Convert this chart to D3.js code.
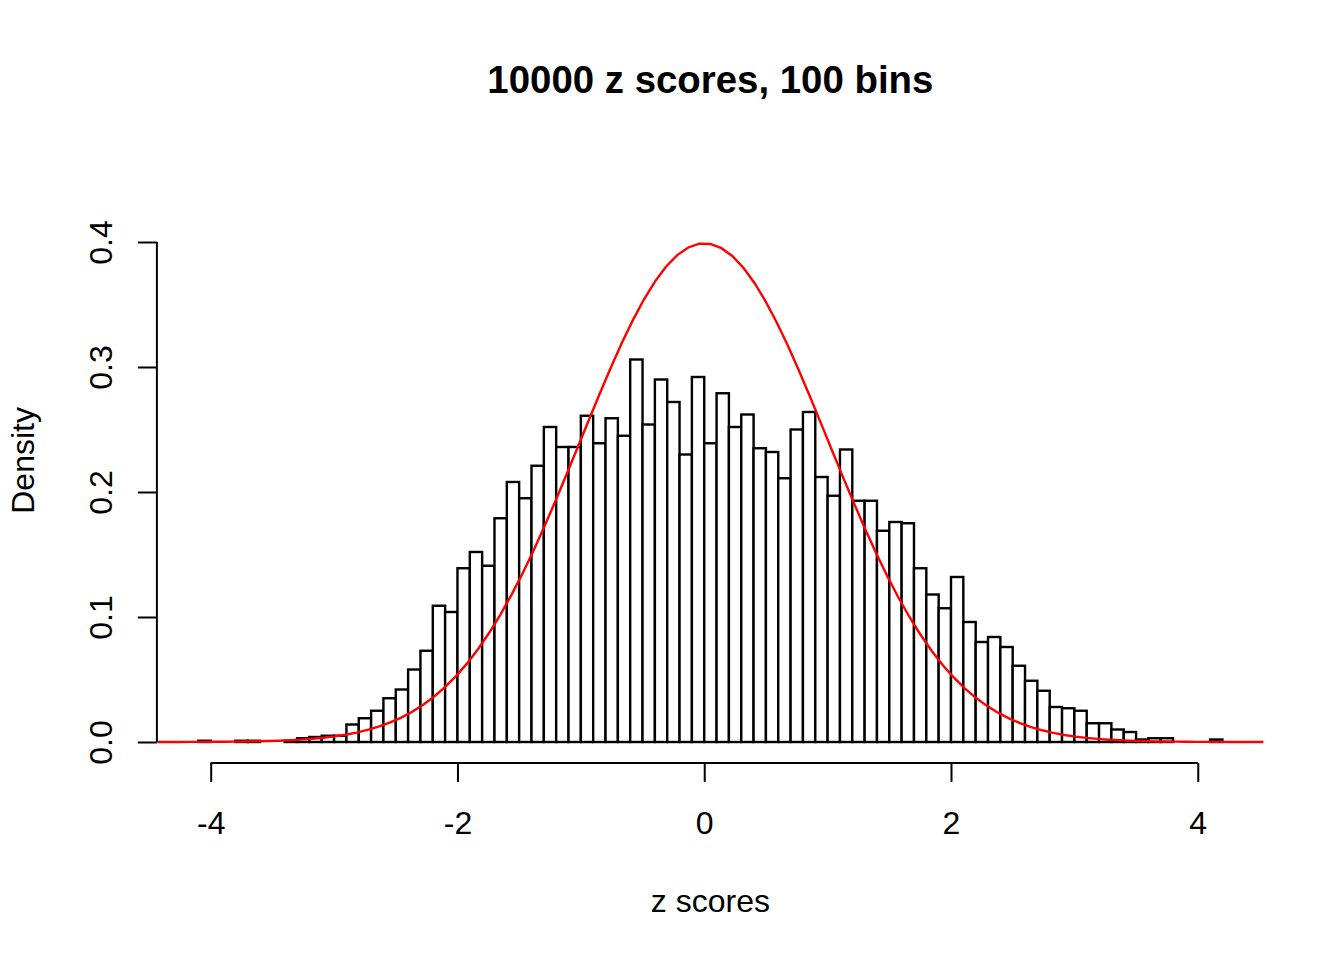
<!DOCTYPE html>
<html>
<head>
<meta charset="utf-8">
<script src="https://cdn.jsdelivr.net/npm/d3@7"></script>
<style>
  html, body { margin: 0; padding: 0; background: #fff; }
  svg text { font-family: "Liberation Sans", Arial, Helvetica, sans-serif; fill: #000; }
</style>
</head>
<body>
<svg id="chart" width="1344" height="960"></svg>
<script>
// Histogram bins of width 0.1 (left edges) and their densities
const binStarts = [
  -4.1, -4.0, -3.9, -3.8, -3.7, -3.6, -3.5, -3.4, -3.3, -3.2,
  -3.1, -3.0, -2.9, -2.8, -2.7, -2.6, -2.5, -2.4, -2.3, -2.2,
  -2.1, -2.0, -1.9, -1.8, -1.7, -1.6, -1.5, -1.4, -1.3, -1.2,
  -1.1, -1.0, -0.9, -0.8, -0.7, -0.6, -0.5, -0.4, -0.3, -0.2,
  -0.1, 0.0, 0.1, 0.2, 0.3, 0.4, 0.5, 0.6, 0.7, 0.8,
  0.9, 1.0, 1.1, 1.2, 1.3, 1.4, 1.5, 1.6, 1.7, 1.8,
  1.9, 2.0, 2.1, 2.2, 2.3, 2.4, 2.5, 2.6, 2.7, 2.8,
  2.9, 3.0, 3.1, 3.2, 3.3, 3.4, 3.5, 3.6, 3.7, 3.8,
  3.9, 4.0, 4.1
];
const binWidth = 0.1;
const densities = [
  0.001, 0.000, 0.000, 0.001, 0.001, 0.000, 0.000, 0.001, 0.003, 0.004,
  0.005, 0.005, 0.014, 0.019, 0.025, 0.035, 0.042, 0.058, 0.073, 0.109,
  0.104, 0.139, 0.152, 0.141, 0.179, 0.208, 0.195, 0.221, 0.252, 0.236,
  0.236, 0.261, 0.239, 0.259, 0.245, 0.306, 0.254, 0.290, 0.272, 0.230,
  0.292, 0.239, 0.279, 0.252, 0.262, 0.235, 0.232, 0.211, 0.250, 0.264,
  0.212, 0.197, 0.234, 0.193, 0.193, 0.169, 0.176, 0.175, 0.139, 0.118,
  0.107, 0.132, 0.096, 0.080, 0.084, 0.076, 0.061, 0.049, 0.041, 0.028,
  0.027, 0.025, 0.015, 0.015, 0.010, 0.008, 0.002, 0.003, 0.003, 0.000,
  0.000, 0.000, 0.002
];
const xTicks = [-4, -2, 0, 2, 4];
const xTickLabels = ["-4", "-2", "0", "2", "4"];
const yTicks = [0.0, 0.1, 0.2, 0.3, 0.4];
const yTickLabels = ["0.0", "0.1", "0.2", "0.3", "0.4"];
const titleText = "10000 z scores, 100 bins";
const xLabel = "z scores";
const yLabel = "Density";

const svg = d3.select("#chart");
const plot = { left: 157.4, right: 1263.4, top: 157.4, bottom: 763.4 };

// x domain: range of the breaks widened by 4% on each side
const xMin = binStarts[0], xMax = binStarts[binStarts.length - 1] + binWidth;
const xPad = (xMax - xMin) * 0.04;
const x = d3.scaleLinear().domain([xMin - xPad, xMax + xPad]).range([plot.left, plot.right]);
const y = d3.scaleLinear().domain([0, 0.4]).range([742, 242]);

const fontPx = 32;

// bars
const bins = binStarts.map((s, i) => ({ x0: s, x1: s + binWidth, d: densities[i] }));
svg.append("g")
  .selectAll("rect")
  .data(bins)
  .join("rect")
  .attr("x", d => x(d.x0))
  .attr("width", d => x(d.x1) - x(d.x0))
  .attr("y", d => y(d.d))
  .attr("height", d => y(0) - y(d.d))
  .attr("fill", "#fff")
  .attr("stroke", "#000")
  .attr("stroke-width", 2.4);

// standard normal density over the plotting range
const normalDensity = z => Math.exp(-z * z / 2) / Math.sqrt(2 * Math.PI);
const [ux0, ux1] = x.domain();
const curvePts = d3.range(101).map(i => {
  const z = ux0 + (ux1 - ux0) * i / 100;
  return [z, normalDensity(z)];
});
svg.append("path")
  .datum(curvePts)
  .attr("fill", "none")
  .attr("stroke", "#ff0000")
  .attr("stroke-width", 2.4)
  .attr("d", d3.line().x(d => x(d[0])).y(d => y(d[1])));

// x axis
const xAxis = d3.axisBottom(x).tickValues(xTicks)
  .tickFormat((d, i) => xTickLabels[i])
  .tickSizeInner(19).tickSizeOuter(0);
const gx = svg.append("g").attr("transform", `translate(0,${plot.bottom - 0.5})`).call(xAxis);
gx.select(".domain").attr("d", `M${x(xTicks[0])},0H${x(xTicks[xTicks.length - 1])}`)
  .attr("stroke", "#000").attr("stroke-width", 2);
gx.selectAll(".tick line").attr("stroke", "#000").attr("stroke-width", 2);
gx.selectAll(".tick text").attr("font-size", fontPx).attr("font-family", null)
  .attr("dy", null).attr("y", 71.5);

// y axis
const yAxis = d3.axisLeft(y).tickValues(yTicks)
  .tickFormat((d, i) => yTickLabels[i])
  .tickSizeInner(19).tickSizeOuter(0);
const gy = svg.append("g").attr("transform", `translate(${plot.left - 0.5},0)`).call(yAxis);
gy.select(".domain").attr("d", `M0,${y(yTicks[0])}V${y(yTicks[yTicks.length - 1])}`)
  .attr("stroke", "#000").attr("stroke-width", 2);
gy.selectAll(".tick line").attr("stroke", "#000").attr("stroke-width", 2);
gy.selectAll(".tick text")
  .attr("font-size", fontPx).attr("font-family", null)
  .attr("x", null).attr("dy", null)
  .attr("text-anchor", "middle")
  .attr("transform", `translate(${112 - (plot.left - 0.5)},0) rotate(-90)`);

// title and axis labels
svg.append("text")
  .attr("x", (plot.left + plot.right) / 2).attr("y", 93)
  .attr("text-anchor", "middle").attr("font-size", 38.4).attr("font-weight", "bold")
  .text(titleText);
svg.append("text")
  .attr("x", (plot.left + plot.right) / 2).attr("y", 912)
  .attr("text-anchor", "middle").attr("font-size", fontPx)
  .text(xLabel);
svg.append("text")
  .attr("transform", `translate(34,${(plot.top + plot.bottom) / 2}) rotate(-90)`)
  .attr("text-anchor", "middle").attr("font-size", fontPx)
  .text(yLabel);
</script>
</body>
</html>
